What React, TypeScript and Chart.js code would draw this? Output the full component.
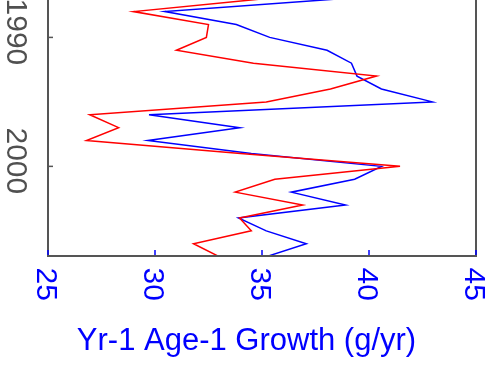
import React, { useEffect, useRef } from "react";
import { Chart, registerables } from "chart.js";

Chart.register(...registerables);

const years = [1987, 1988, 1989, 1990, 1991, 1992, 1993, 1994, 1995, 1996, 1997, 1998, 1999, 2000, 2001, 2002, 2003, 2004, 2005, 2006, 2007];
const redSeries = [35.1, 29.0, 32.5, 32.4, 31.0, 34.6, 40.35, 38.2, 35.2, 26.95, 28.3, 26.8, 34.0, 41.45, 35.6, 33.75, 36.9, 33.95, 34.5, 31.8, 33.0];
const blueSeries = [38.7, 30.46, 33.8, 35.36, 38.04, 39.18, 39.44, 40.58, 42.96, 29.72, 33.96, 29.67, 34.5, 40.58, 39.33, 36.37, 38.9, 33.9, 35.2, 37.07, 35.2];
const xTicks = [25, 30, 35, 40, 45];
const yTicks = [1990, 2000];
const xTitle = "Yr-1 Age-1 Growth (g/yr)";

const FONT = '"Liberation Sans", Arial, Helvetica, sans-serif';

export default function App() {
  const ref = useRef<HTMLCanvasElement>(null);

  useEffect(() => {
    if (!ref.current) return;

    const axesPlugin = {
      id: "axesPlugin",
      afterDraw(chart: any) {
        const { ctx, chartArea: a, scales } = chart;
        const xs = scales.x;
        const ys = scales.y;
        ctx.save();
        // box (left, bottom, right)
        ctx.strokeStyle = "#555555";
        ctx.lineWidth = 2;
        ctx.beginPath();
        ctx.moveTo(a.left, a.top - 5);
        ctx.lineTo(a.left, a.bottom);
        ctx.lineTo(a.right, a.bottom);
        ctx.lineTo(a.right, a.top - 5);
        ctx.stroke();

        // x ticks (blue, inward)
        ctx.strokeStyle = "#0000ff";
        ctx.lineWidth = 1.5;
        xTicks.forEach((v) => {
          const px = xs.getPixelForValue(v);
          ctx.beginPath();
          ctx.moveTo(px, a.bottom - 1);
          ctx.lineTo(px, a.bottom - 6);
          ctx.stroke();
        });

        // y ticks (gray, inward)
        ctx.strokeStyle = "#555555";
        ctx.lineWidth = 1.5;
        yTicks.forEach((v) => {
          const py = ys.getPixelForValue(v);
          ctx.beginPath();
          ctx.moveTo(a.left, py);
          ctx.lineTo(a.left + 5, py);
          ctx.stroke();
        });

        const S = 30;
        // x tick labels, rotated clockwise
        ctx.font = `${S}px ${FONT}`;
        ctx.fillStyle = "#0000ff";
        ctx.textAlign = "left";
        ctx.textBaseline = "alphabetic";
        xTicks.forEach((v) => {
          const px = xs.getPixelForValue(v);
          ctx.save();
          ctx.translate(px, a.bottom + 11.5);
          ctx.rotate(Math.PI / 2);
          ctx.fillText(String(v), 0, 0.358 * S);
          ctx.restore();
        });

        // y tick labels, rotated clockwise
        ctx.fillStyle = "#505050";
        ctx.textAlign = "center";
        yTicks.forEach((v) => {
          const py = ys.getPixelForValue(v);
          ctx.save();
          ctx.translate(17.5, py - 5.5);
          ctx.rotate(Math.PI / 2);
          ctx.fillText(String(v), 0, 0.358 * S);
          ctx.restore();
        });

        // x title
        ctx.font = `31px ${FONT}`;
        ctx.fillStyle = "#0000ff";
        ctx.textAlign = "center";
        ctx.fillText(xTitle, chart.width / 2, 350);
        ctx.restore();
      },
    };

    const chart = new Chart(ref.current, {
      type: "scatter",
      data: {
        datasets: [
          {
            label: "red",
            data: years.map((y, i) => ({ x: redSeries[i], y })),
            showLine: true,
            borderColor: "#ff0000",
            backgroundColor: "#ff0000",
            borderWidth: 1.5,
            pointRadius: 0,
            tension: 0,
            fill: false,
          },
          {
            label: "blue",
            data: years.map((y, i) => ({ x: blueSeries[i], y })),
            showLine: true,
            borderColor: "#0000ff",
            backgroundColor: "#0000ff",
            borderWidth: 1.5,
            pointRadius: 0,
            tension: 0,
            fill: false,
          },
        ],
      },
      options: {
        animation: false,
        responsive: false,
        layout: { padding: { left: 48, right: 17, top: 0, bottom: 114 } },
        scales: {
          x: { type: "linear", display: false, min: 25, max: 45 },
          y: { type: "linear", display: false, min: 1987.1, max: 2006.95, reverse: true },
        },
        plugins: {
          legend: { display: false },
          tooltip: { enabled: false },
          title: { display: false },
        },
      },
      plugins: [axesPlugin],
    });

    return () => chart.destroy();
  }, []);

  return (
    <div style={{ position: "absolute", left: 0, top: 0, width: 493, height: 370, background: "#ffffff" }}>
      <canvas ref={ref} width={493} height={370} style={{ display: "block" }} />
    </div>
  );
}
